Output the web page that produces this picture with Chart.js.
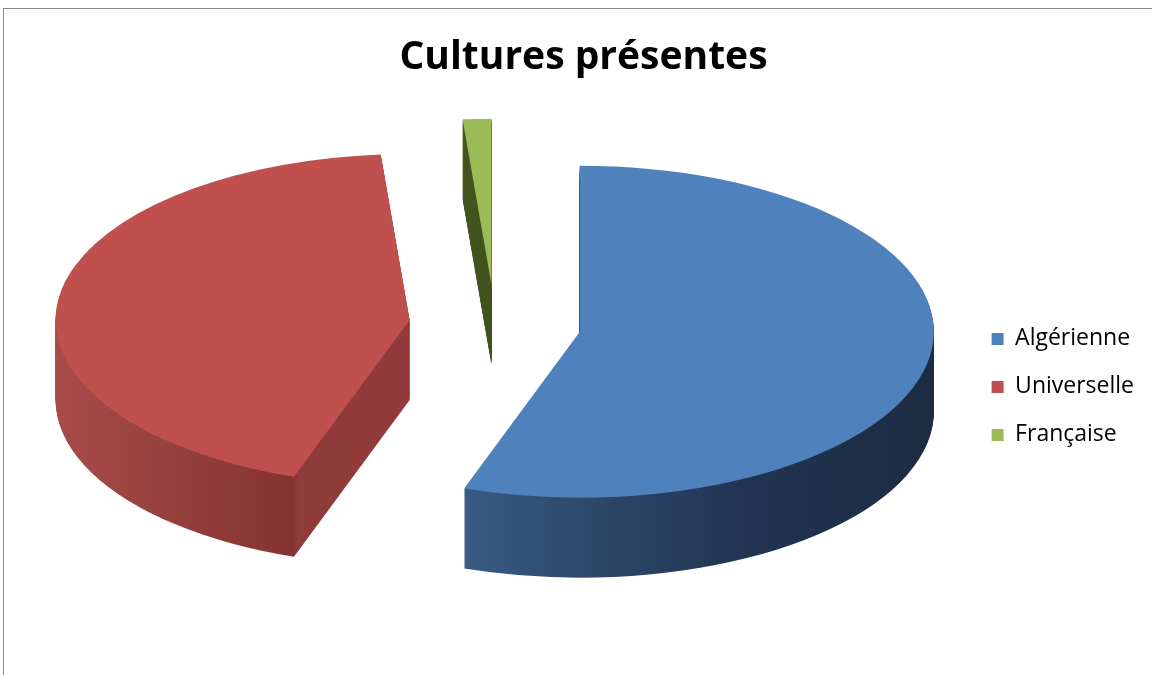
<!DOCTYPE html>
<html lang="fr">
<head>
    <meta charset="UTF-8">
    <title>Cultures présentes</title>
    <script src="https://cdn.jsdelivr.net/npm/chart.js"></script>
    <style>
        body { margin: 0; background: #fff; }
        .page { position: relative; width: 1152px; height: 675px; overflow: hidden; }
        .wrap { position: absolute; left: 0; top: 0; width: 1145px; height: 675px; }
        .frame {
            position: absolute; left: 3px; top: 8px; right: -2px; bottom: -2px;
            border-left: 1px solid #8a8a8a; border-top: 1px solid #8a8a8a;
            pointer-events: none;
        }
    </style>
</head>
<body>
    <div class="page">
        <div class="wrap">
            <canvas id="pieChart"></canvas>
        </div>
        <div class="frame"></div>
    </div>
    <script>
        // Data (share of each culture, %)
        const categories = ['Algérienne', 'Universelle', 'Française'];
        const shares = [55.3, 43.4, 1.3];

        const topColors = ['#4f81bd', '#c0504d', '#9bbb59'];

        // Where the tilted pie sits on the page (screen px)
        const CX = 495, CY = 325, RX = 354, RY = 166;
        const EXPLODE = 0.243;   // slice pull-out, as a share of the radius
        const DEPTH = 80;        // thickness of the pie

        // Side shading of every slice: [screen x, colour] stops
        const sideStops = [
            [[440, '#3b5e89'], [600, '#2d4769'], [760, '#203350'], [940, '#1c2b41']],
            [[55, '#a84c4a'], [293, '#843332'], [298, '#8f3b3a'], [420, '#913c3b']],
            [[460, '#44561f'], [500, '#3f501d']]
        ];

        // Draws the pie as a thick, tilted, exploded disc from the arc elements
        const pie3d = {
            id: 'pie3d',
            beforeDatasetsDraw(chart) {
                const arcs = chart.getDatasetMeta(0).data;
                if (!arcs.length) return;
                const ctx = chart.ctx;
                const r0 = arcs[0].outerRadius, ax = arcs[0].x, ay = arcs[0].y;
                const kx = RX / r0, ky = RY / r0;
                const ux = sx => ax + (sx - CX) / kx;

                const wedge = (arc, dy) => {
                    const mid = (arc.startAngle + arc.endAngle) / 2;
                    const x = arc.x + Math.cos(mid) * EXPLODE * r0;
                    const y = arc.y + Math.sin(mid) * EXPLODE * r0 + dy;
                    ctx.beginPath();
                    ctx.moveTo(x, y);
                    ctx.arc(x, y, arc.outerRadius, arc.startAngle, arc.endAngle);
                    ctx.closePath();
                };

                ctx.save();
                ctx.translate(CX, CY);
                ctx.scale(kx, ky);
                ctx.translate(-ax, -ay);

                // sides
                arcs.forEach((arc, i) => {
                    const stops = sideStops[i];
                    const x0 = stops[0][0], x1 = stops[stops.length - 1][0];
                    const g = ctx.createLinearGradient(ux(x0), 0, ux(x1), 0);
                    stops.forEach(s => g.addColorStop((s[0] - x0) / (x1 - x0), s[1]));
                    ctx.fillStyle = g;
                    for (let d = DEPTH; d > 0; d--) {
                        wedge(arc, d / ky);
                        ctx.fill();
                    }
                });

                // tops
                arcs.forEach(arc => {
                    wedge(arc, 0);
                    ctx.fillStyle = arc.options.backgroundColor;
                    ctx.fill();
                });

                ctx.restore();
                return false;
            }
        };

        const ctxPie = document.getElementById('pieChart').getContext('2d');
        const pieChart = new Chart(ctxPie, {
            type: 'pie',
            data: {
                labels: categories,
                datasets: [{
                    data: shares,
                    backgroundColor: topColors,
                    borderWidth: 0
                }]
            },
            options: {
                responsive: true,
                maintainAspectRatio: false,
                animation: false,
                layout: { padding: { left: 23, right: 1 } },
                plugins: {
                    title: {
                        display: true,
                        text: 'Cultures présentes',
                        color: '#000',
                        font: { family: 'Open Sans', size: 39, weight: 'bold' },
                        padding: { top: 34, bottom: 18 }
                    },
                    legend: {
                        position: 'right',
                        fullSize: false,
                        labels: {
                            color: '#000',
                            boxWidth: 12,
                            boxHeight: 12,
                            padding: 25,
                            font: { family: 'Open Sans', size: 23 }
                        }
                    },
                    tooltip: { enabled: false }
                }
            },
            plugins: [pie3d]
        });
    </script>
</body>
</html>
